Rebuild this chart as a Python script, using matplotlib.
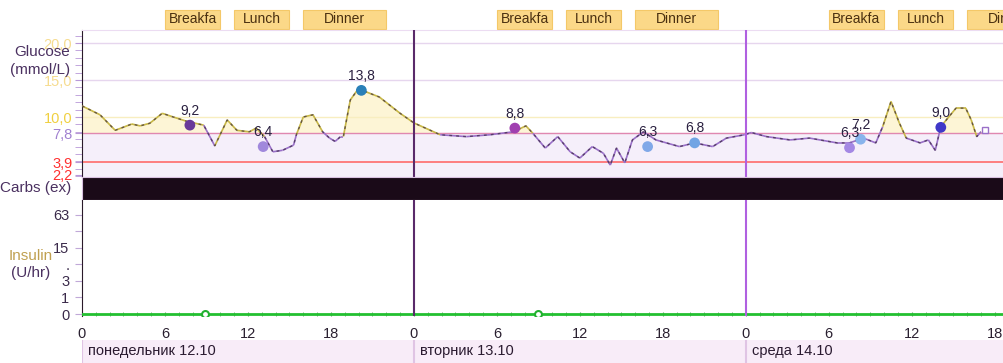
import matplotlib
matplotlib.use('Agg')
import matplotlib.pyplot as plt
import matplotlib.transforms as mtransforms
from matplotlib.patches import Rectangle
from matplotlib.collections import LineCollection
import numpy as np

plt.rcParams['font.family'] = ['Liberation Sans', 'DejaVu Sans']

# glucose trace (hours since monday 0:00, mmol/L)
hours = [0, 1.3, 2.4, 3.6, 4.2, 4.9, 5.8, 6.6, 7.6, 8.8, 9.6, 10.5, 11.2, 12.1, 12.6, 13.2,
         13.8, 14.5, 15.3, 15.5, 16.0, 16.7, 17.4, 17.9, 18.3, 18.7, 18.9, 19.4, 19.9, 20.4,
         21.5, 23.0, 24.0, 25.9, 27.8, 29.5, 31.2, 32.1, 32.6, 33.5, 34.4, 35.3, 36.0, 36.9,
         37.7, 38.2, 38.65, 39.25, 39.8, 40.6, 41.5, 43.2, 44.3, 45.6, 46.6, 47.9, 48.4, 49.5,
         51.2, 52.6, 54.6, 55.5, 56.5, 57.4, 57.9, 58.5, 59.1, 59.6, 60.6, 61.2, 61.7, 62.1,
         63.2, 63.9, 64.3, 64.7, 65.0]
glucose = [11.5, 10.3, 8.2, 9.05, 8.8, 9.15, 10.5, 10.0, 9.4, 8.9, 6.1, 9.6, 8.2, 8.0, 8.5, 7.35,
           5.3, 5.5, 6.2, 7.6, 10.0, 10.3, 8.0, 7.15, 6.7, 7.35, 7.35, 12.3, 13.6, 13.5,
           12.7, 10.5, 9.2, 7.6, 7.35, 7.6, 8.0, 8.8, 7.8, 5.8, 7.35, 5.3, 4.45, 6.0,
           5.1, 3.5, 5.8, 3.8, 6.9, 8.0, 6.9, 6.0, 6.5, 6.0, 7.15, 7.6, 7.9, 7.35,
           6.9, 7.15, 6.5, 6.5, 7.15, 6.5, 8.7, 12.1, 9.2, 7.15, 6.5, 6.9, 5.5, 8.7,
           11.2, 11.2, 9.6, 7.35, 8.0]
trace_end = (65.3, 8.3)

# finger stick readings
bg_hours = [7.8, 13.1, 20.2, 31.3, 40.9, 44.3, 55.5, 56.3, 62.1]
bg_values = [8.9, 6.0, 13.6, 8.5, 6.0, 6.5, 5.85, 7.0, 8.6]
bg_labels = ['9,2', '6,4', '13,8', '8,8', '6,3', '6,8', '6,3', '7,2', '9,0']
bg_colors = ['#6a3a9a', '#a088dc', '#2a80b8', '#a040b0', '#80a8e8', '#70a4e4', '#a488e4', '#88b4ec', '#4038c8']

# meals (start, end hour within day)
meal_names = ['Breakfa', 'Lunch', 'Dinner']
meal_start = [6, 11, 16]
meal_end = [10, 15, 22]

# insulin basal (U/hr) and markers
insulin_hours = [0, 66.7]
insulin_rate = [0, 0]
insulin_mark_hours = [8.9, 33.0]

days = ['понедельник 12.10', 'вторник 13.10', 'среда 14.10']
day_line_colors = ['#2a1a2a', '#5a2a6a', '#b060e0']

glucose_ticks = [20.0, 15.0, 10.0, 7.8, 3.9, 2.2]
glucose_tick_labels = ['20,0', '15,0', '10,0', '7,8', '3,9', '2,2']
glucose_tick_colors = ['#f6dc90', '#f6dc90', '#f0d040', '#a080d0', '#ff3030', '#ff3030']

insulin_ticks = [0, 1, 3, 7, 15, 31, 63]
insulin_tick_labels = ['0', '1', '3', '.', '15', '', '63']

XMAX = 66.67
W, H = 1004, 363
fig = plt.figure(figsize=(W / 100, H / 100), dpi=100)


def box(x0, y0, x1, y1):
    return [x0 / W, 1 - y1 / H, (x1 - x0) / W, (y1 - y0) / H]


axg = fig.add_axes(box(82, 30, 1004, 177))
axc = fig.add_axes(box(82, 177, 1004, 200))
axi = fig.add_axes(box(82, 200, 1004, 316))
axd = fig.add_axes(box(82, 340, 1004, 363))

# ---- glucose panel
h = np.array(hours)
g = np.array(glucose)
axg.set_xlim(0, XMAX)
axg.set_ylim(1.89, 21.76)
axg.axhspan(1.89, 7.8, color='#f5effa', zorder=0)
axg.fill_between(h, g, 7.8, where=g > 7.8, interpolate=True, color='#fdf5d6', zorder=1)
for y in [20, 15]:
    axg.axhline(y, color='#e6d6ee', lw=1, zorder=1)
axg.axhline(10, color='#f8eec0', lw=1, zorder=1)
axg.axhline(7.8, color='#e088b0', lw=1, zorder=2)
axg.axhline(3.9, color='#ff6a6a', lw=1.2, zorder=2)

pts = np.column_stack([h, g])
segs = np.stack([pts[:-1], pts[1:]], axis=1)
seg_cols = ['#c8b848' if (a + b) / 2 > 7.8 else '#9a70c8' for a, b in zip(g[:-1], g[1:])]
axg.add_collection(LineCollection(segs, colors=seg_cols, linewidths=1.2, zorder=3))
axg.plot(h, g, color='#3a2a40', lw=1.0, ls=(0, (2, 3)), alpha=0.7, zorder=4)
axg.plot(*trace_end, 's', ms=5, mfc='white', mec='#9a70c8', mew=1, zorder=4)

axg.scatter(bg_hours, bg_values, s=60, c=bg_colors, zorder=5, edgecolors='none')
for xh, yv, lab in zip(bg_hours, bg_values, bg_labels):
    axg.annotate(lab, (xh, yv), xytext=(0, 10.5), textcoords='offset points',
                 ha='center', va='center', fontsize=10, color='#2a2040', zorder=6)

axg.set_yticks(glucose_ticks)
axg.set_yticklabels(glucose_tick_labels, fontsize=10.5)
for lab, col in zip(axg.get_yticklabels(), glucose_tick_colors):
    lab.set_color(col)
axg.set_yticks(np.arange(2, 22, 1), minor=True)
axg.tick_params(axis='y', which='both', color='#b898d8', length=5, pad=2)
axg.set_xticks([])
for s in ['right', 'bottom']:
    axg.spines[s].set_visible(False)
axg.spines['top'].set_color('#ecdcf2')
axg.spines['left'].set_color('#2a1a2a')

# meal boxes above
trans = mtransforms.blended_transform_factory(axg.transData, axg.transAxes)
for d in range(3):
    for name, s0, s1 in zip(meal_names, meal_start, meal_end):
        x0 = d * 24 + s0
        axg.add_patch(Rectangle((x0, 1.007), s1 - s0, 0.13, transform=trans, clip_on=False,
                                facecolor='#fbd888', edgecolor='#f4c868', lw=0.8))
        axg.text(x0 + (s1 - s0) / 2, 1.072, name, transform=trans, ha='center', va='center',
                 fontsize=10, color='#4a3010', clip_on=False)

# ---- carbs band
axc.set_facecolor('#1a0a18')
axc.set_xlim(0, XMAX)
axc.set_xticks([])
axc.set_yticks([])
for s in axc.spines.values():
    s.set_color('#d8c0e0')

# ---- insulin panel, log2(u + 1) scale
axi.set_xlim(0, XMAX)
axi.set_ylim(-0.12, 6.9)
axi.plot(insulin_hours, np.log2(np.array(insulin_rate) + 1), color='#22c030', lw=2, zorder=3)
axi.plot(insulin_mark_hours, [0, 0], 'o', ms=5, mfc='white', mec='#22b030', mew=1.5, zorder=4)
axi.set_yticks(np.log2(np.array(insulin_ticks) + 1))
axi.set_yticklabels(insulin_tick_labels, fontsize=10.5, color='#3a2a4a')
axi.tick_params(axis='y', color='#c0a8d8', length=5, pad=4)
axi.set_xticks(np.arange(0, XMAX, 6))
axi.set_xticklabels([str(int(t) % 24) for t in np.arange(0, XMAX, 6)], fontsize=10.5, color='#2a2030')
axi.set_xticks(np.arange(0, XMAX, 1), minor=True)
axi.tick_params(axis='x', which='both', direction='in', color='#6a9a6a', length=3, pad=8)
for s in ['right', 'top', 'bottom']:
    axi.spines[s].set_visible(False)
axi.spines['left'].set_color('#2a1a2a')

# day separators
for d in range(1, 3):
    for ax in (axg, axi):
        ax.axvline(d * 24, color=day_line_colors[d], lw=1.5, zorder=6)

# ---- day band
axd.set_facecolor('#f8ecf8')
axd.set_xlim(0, XMAX)
axd.set_ylim(0, 1)
axd.set_xticks([])
axd.set_yticks([])
for s in axd.spines.values():
    s.set_visible(False)
for d, name in enumerate(days):
    axd.axvline(d * 24, color='#e0c4e4', lw=1.5)
    axd.text(d * 24 + 0.45, 0.5, name, va='center', ha='left', fontsize=10.5, color='#2a1a30')

# axis captions
fig.text(42 / W, 1 - 52 / H, 'Glucose', ha='center', va='center', fontsize=11, color='#4a3060')
fig.text(40 / W, 1 - 70 / H, '(mmol/L)', ha='center', va='center', fontsize=11, color='#4a3060')
fig.text(36 / W, 1 - 188 / H, 'Carbs (ex)', ha='center', va='center', fontsize=11, color='#4a3060')
fig.text(31 / W, 1 - 256 / H, 'Insulin', ha='center', va='center', fontsize=11, color='#c0a050')
fig.text(31 / W, 1 - 273 / H, '(U/hr)', ha='center', va='center', fontsize=11, color='#4a3060')

fig.savefig('out.png', dpi=100)
